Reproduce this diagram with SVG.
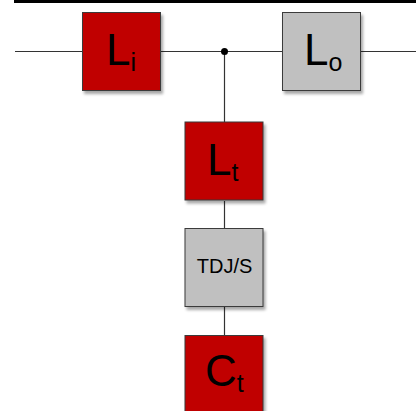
<svg xmlns="http://www.w3.org/2000/svg" width="416" height="411" viewBox="0 0 416 411">
<style>
.box{stroke:#3a3a3a;stroke-width:1;filter:url(#sh)}
.red{fill:#c00000}
.gray{fill:#c0c0c0}
.wire{stroke:#333;stroke-width:1.2;fill:none}
.big{font-family:"Liberation Sans",Arial,sans-serif;font-size:44px;fill:#000}
.sub{font-size:25px}
.small{font-family:"Liberation Sans",Arial,sans-serif;font-size:20px;fill:#000}
</style>
<defs>
<filter id="sh" x="-10%" y="-10%" width="130%" height="130%">
<feGaussianBlur in="SourceAlpha" stdDeviation="1.5"/>
<feOffset dx="2" dy="3" result="b"/>
<feComponentTransfer><feFuncA type="linear" slope="0.35"/></feComponentTransfer>
<feMerge><feMergeNode/><feMergeNode in="SourceGraphic"/></feMerge>
</filter>
</defs>
<rect x="14" y="0" width="402" height="3" fill="#000"/>
<g id="connectors">
<line class="wire" x1="15" y1="51.5" x2="82" y2="51.5"/>
<line class="wire" x1="161" y1="51.5" x2="282" y2="51.5"/>
<line class="wire" x1="361" y1="51.5" x2="416" y2="51.5"/>
<line class="wire" x1="224.5" y1="51.5" x2="224.5" y2="122"/>
<line class="wire" x1="224.5" y1="201" x2="224.5" y2="228"/>
<line class="wire" x1="224.5" y1="307" x2="224.5" y2="335"/>
<circle cx="224.5" cy="51.5" r="3.5" fill="#000"/>
</g>
<g id="Li">
<rect class="box red" x="82.5" y="12.5" width="78" height="78"/>
<text class="big" x="106" y="64.5">L<tspan class="sub" dy="6">i</tspan></text>
</g>
<g id="Lo">
<rect class="box gray" x="282.5" y="12.5" width="78" height="78"/>
<text class="big" x="304" y="64.5">L<tspan class="sub" dy="6">o</tspan></text>
</g>
<g id="Lt">
<rect class="box red" x="185" y="122" width="78" height="78"/>
<text class="big" x="207" y="174.5">L<tspan class="sub" dy="6">t</tspan></text>
</g>
<g id="TDJS">
<rect class="box gray" x="185" y="228.5" width="78" height="78"/>
<text class="small" x="224.5" y="273.3" text-anchor="middle">TDJ/S</text>
</g>
<g id="Ct">
<rect class="box red" x="185" y="335.5" width="78" height="78"/>
<text class="big" x="205" y="386">C<tspan class="sub" dy="6">t</tspan></text>
</g>
</svg>
